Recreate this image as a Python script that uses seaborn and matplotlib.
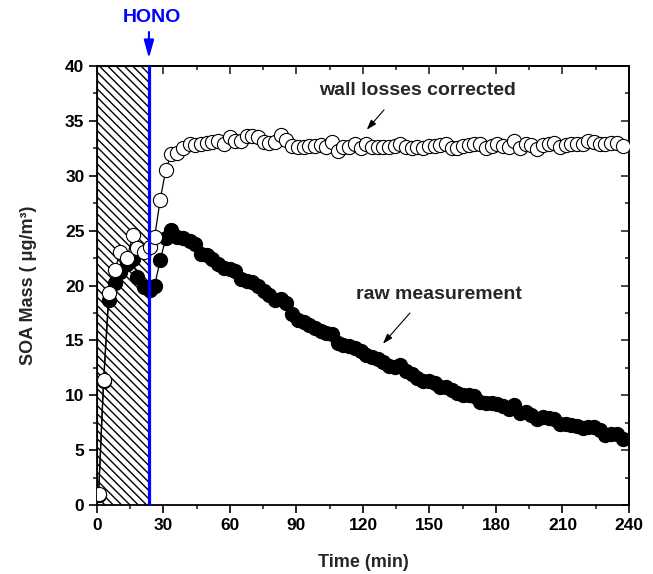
import matplotlib
matplotlib.use("Agg")
import matplotlib.pyplot as plt
import seaborn as sns
import pandas as pd
from matplotlib.patches import Rectangle
from matplotlib.ticker import MultipleLocator

# ---------------- data ----------------
time_min = [0.7, 3.0, 5.3, 8.0, 10.6, 13.6, 16.1, 18.2, 21.3, 23.8,
            26.0, 28.5, 31.0, 33.5, 36.1, 38.8, 41.8, 44.4, 47.0, 49.5,
            52.1, 54.7, 57.2, 59.8, 62.4, 65.0, 67.5, 70.1, 72.7, 75.2,
            77.8, 80.4, 82.9, 85.5, 88.1, 90.7, 93.2, 95.8, 98.4, 100.9,
            103.5, 106.1, 108.6, 111.2, 113.8, 116.3, 118.9, 121.5, 124.1, 126.6,
            129.2, 131.8, 134.3, 136.9, 139.5, 142.0, 144.6, 147.2, 149.8, 152.3,
            154.9, 157.5, 160.0, 162.6, 165.2, 167.7, 170.3, 172.9, 175.5, 178.0,
            180.6, 183.2, 185.7, 188.3, 190.9, 193.4, 196.0, 198.6, 201.1, 203.7,
            206.3, 208.9, 211.4, 214.0, 216.6, 219.1, 221.7, 224.3, 226.8, 229.4,
            232.0, 234.6, 237.1]

raw_measurement = [0.9, 11.3, 18.7, 20.2, 21.2, 22.0, 22.4, 20.8, 19.9, 19.6,
                   20.0, 22.3, 24.3, 25.1, 24.4, 24.3, 24.1, 23.8, 22.9, 22.8,
                   22.4, 22.0, 21.6, 21.5, 21.3, 20.6, 20.4, 20.3, 20.0, 19.5,
                   19.1, 18.7, 18.8, 18.4, 17.4, 16.9, 16.7, 16.4, 16.1, 15.9,
                   15.7, 15.6, 14.8, 14.6, 14.5, 14.3, 14.0, 13.7, 13.5, 13.3,
                   13.0, 12.7, 12.6, 12.8, 12.2, 11.9, 11.6, 11.3, 11.3, 11.1,
                   10.8, 10.8, 10.5, 10.2, 10.0, 10.0, 9.9, 9.4, 9.3, 9.3,
                   9.2, 9.0, 8.8, 9.1, 8.4, 8.5, 8.2, 7.8, 8.0, 7.9,
                   7.8, 7.4, 7.4, 7.3, 7.2, 7.0, 7.1, 7.1, 6.8, 6.4,
                   6.5, 6.5, 6.0]

wall_corrected = [1.0, 11.4, 19.3, 21.4, 23.1, 22.5, 24.6, 23.4, 23.1, 23.5,
                  24.4, 27.8, 30.5, 32.0, 32.1, 32.5, 32.9, 32.8, 32.9, 33.0,
                  33.1, 33.2, 32.9, 33.5, 33.2, 33.2, 33.6, 33.6, 33.5, 33.1,
                  33.0, 33.1, 33.7, 33.3, 32.7, 32.6, 32.6, 32.7, 32.7, 32.8,
                  32.6, 33.1, 32.3, 32.6, 32.6, 32.9, 32.5, 32.9, 32.6, 32.6,
                  32.6, 32.6, 32.7, 32.9, 32.6, 32.5, 32.6, 32.5, 32.7, 32.7,
                  32.8, 32.9, 32.5, 32.5, 32.7, 32.8, 32.9, 32.9, 32.5, 32.7,
                  32.9, 32.7, 32.65, 33.2, 32.5, 32.9, 32.8, 32.4, 32.8, 32.9,
                  33.0, 32.6, 32.8, 32.9, 32.9, 32.9, 33.2, 33.1, 32.9, 32.9,
                  33.0, 33.0, 32.7]

x_ticks = [0, 30, 60, 90, 120, 150, 180, 210, 240]
y_ticks = [0, 5, 10, 15, 20, 25, 30, 35, 40]
hono_time = 23.45

# ---------------- style ----------------
sns.set_style("ticks")
plt.rcParams["font.family"] = ["Liberation Sans", "DejaVu Sans"]
plt.rcParams["font.weight"] = "bold"
plt.rcParams["hatch.linewidth"] = 1.0

fig = plt.figure(figsize=(6.53, 5.74), dpi=100)
ax = fig.add_axes([0.1485, 0.120, 0.8147, 0.765])

df = pd.DataFrame({"t": time_min, "raw": raw_measurement, "corr": wall_corrected})

# hatched HONO injection period
ax.add_patch(Rectangle((0, 0), hono_time, 40, facecolor="white", edgecolor="black",
                       hatch="\\\\\\\\", lw=0.8, zorder=1))

sns.lineplot(data=df, x="t", y="raw", ax=ax, color="black", lw=0.9,
             marker="o", markersize=10.2, markerfacecolor="black",
             markeredgecolor="black", markeredgewidth=0.8,
             sort=False, estimator=None, zorder=3)
sns.lineplot(data=df, x="t", y="corr", ax=ax, color="black", lw=0.9,
             marker="o", markersize=10.2, markerfacecolor="white",
             markeredgecolor="black", markeredgewidth=0.8,
             sort=False, estimator=None, zorder=4)

ax.axvline(hono_time, color="#0000ff", lw=2.3, zorder=6)

ax.set_xlim(0, 240)
ax.set_ylim(0, 40)
ax.set_xticks(x_ticks)
ax.set_yticks(y_ticks)
ax.xaxis.set_minor_locator(MultipleLocator(15))
ax.yaxis.set_minor_locator(MultipleLocator(2.5))
ax.tick_params(axis="both", which="major", direction="out", length=6, width=1.2,
               labelsize=12.5, colors="black", pad=3)
ax.tick_params(axis="both", which="minor", direction="out", length=3, width=1.2)
for lab in ax.get_xticklabels() + ax.get_yticklabels():
    lab.set_fontweight("bold")
for s in ax.spines.values():
    s.set_visible(True)
    s.set_linewidth(1.3)
    s.set_color("black")

secx = ax.secondary_xaxis("top")
secx.set_xticks(x_ticks)
secx.xaxis.set_minor_locator(MultipleLocator(15))
secx.tick_params(axis="x", which="major", direction="in", length=6, width=1.2, labeltop=False)
secx.tick_params(axis="x", which="minor", direction="in", length=3, width=1.2)
secx.spines["top"].set_linewidth(1.3)
secy = ax.secondary_yaxis("right")
secy.set_yticks(y_ticks)
secy.yaxis.set_minor_locator(MultipleLocator(2.5))
secy.tick_params(axis="y", which="major", direction="in", length=6, width=1.2, labelright=False)
secy.tick_params(axis="y", which="minor", direction="in", length=3, width=1.2)
secy.spines["right"].set_linewidth(1.3)

ax.set_xlabel("Time (min)", fontsize=13, fontweight="bold")
ax.set_ylabel("SOA Mass ( \u03bcg/m\u00b3)", fontsize=13, fontweight="bold")
ax.xaxis.set_label_coords(0.5, -0.112)
ax.yaxis.set_label_coords(-0.112, 0.5)

# annotations
ax.text(144.8, 37.8, "wall losses corrected", ha="center", va="center",
        fontsize=14, fontweight="bold")
ax.annotate("", xy=(121.7, 34.2), xytext=(129.5, 36.0),
            arrowprops=dict(arrowstyle="-|>,head_length=0.6,head_width=0.2",
                            color="black", lw=0.8, mutation_scale=10, shrinkA=0, shrinkB=0))
ax.text(154.3, 19.2, "raw measurement", ha="center", va="center",
        fontsize=14, fontweight="bold")
ax.annotate("", xy=(129.0, 14.7), xytext=(141.2, 17.5),
            arrowprops=dict(arrowstyle="-|>,head_length=0.6,head_width=0.2",
                            color="black", lw=0.8, mutation_scale=10, shrinkA=0, shrinkB=0))

ax.text(hono_time + 1.5, 44.4, "HONO", ha="center", va="center", color="#0000ff",
        fontsize=14, fontweight="bold", clip_on=False)
ax.annotate("", xy=(hono_time, 40.7), xytext=(hono_time, 43.1),
            arrowprops=dict(arrowstyle="-|>,head_length=0.9,head_width=0.25",
                            color="#0000ff", lw=1.5, mutation_scale=12, shrinkA=0, shrinkB=0),
            annotation_clip=False)

fig.savefig("out.png", dpi=100, facecolor="white")
